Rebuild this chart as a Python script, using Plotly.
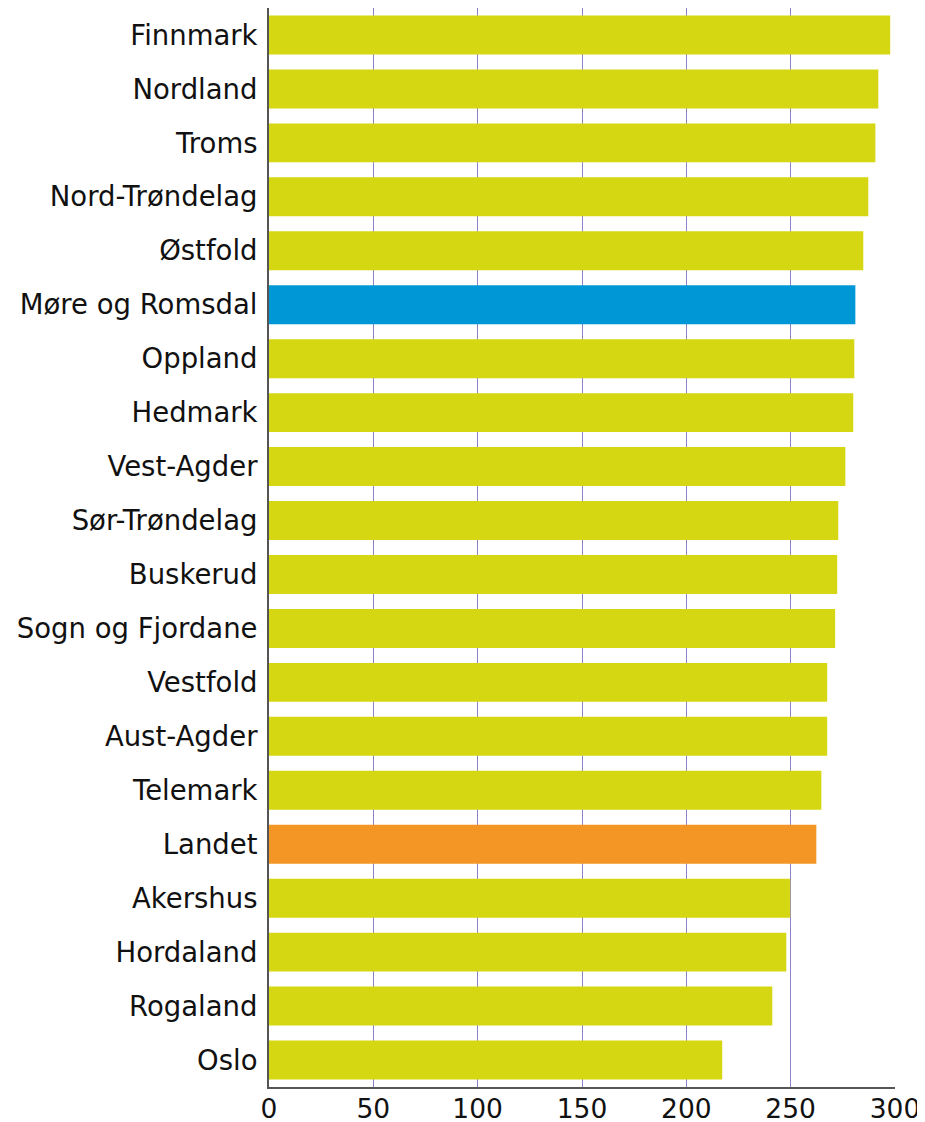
import plotly.graph_objects as go

regions = ["Finnmark", "Nordland", "Troms", "Nord-Trøndelag", "Østfold",
           "Møre og Romsdal", "Oppland", "Hedmark", "Vest-Agder", "Sør-Trøndelag",
           "Buskerud", "Sogn og Fjordane", "Vestfold", "Aust-Agder", "Telemark",
           "Landet", "Akershus", "Hordaland", "Rogaland", "Oslo"]
values = [297.7, 292.0, 290.6, 287.2, 284.8,
          281.0, 280.5, 280.0, 276.2, 272.8,
          272.3, 271.3, 267.5, 267.5, 264.7,
          262.3, 249.8, 247.9, 241.2, 217.2]

GREEN = "#d4d711"
BLUE = "#0097d6"
ORANGE = "#f39626"
highlight = {"Møre og Romsdal": BLUE, "Landet": ORANGE}
colors = [highlight.get(r, GREEN) for r in regions]

x_ticks = [0, 50, 100, 150, 200, 250, 300]

fig = go.Figure(go.Bar(
    x=values, y=regions, orientation="h",
    marker=dict(color=colors, line=dict(width=0)),
))

# the page body adds an 8px offset, so the figure is 8px smaller
fig.update_layout(
    width=917, height=1114,
    margin=dict(l=261, r=30, t=0, b=35, autoexpand=False),
    paper_bgcolor="white", plot_bgcolor="white",
    bargap=0.278,
    showlegend=False,
    font=dict(family="DejaVu Sans", color="#111111"),
)
fig.update_xaxes(
    range=[0, 300], tickvals=x_ticks, ticktext=[str(t) for t in x_ticks],
    showgrid=True, gridcolor="#8e82c6", gridwidth=1.2,
    zeroline=False, showline=True, linecolor="#555555", linewidth=2,
    tickfont=dict(size=26.5), ticks="", ticklabelstandoff=-3, automargin=False,
)
fig.update_yaxes(
    categoryorder="array", categoryarray=regions, autorange="reversed",
    showgrid=False, zeroline=False, showline=True, linecolor="#555555", linewidth=2,
    tickfont=dict(size=27.5), ticks="", ticklabelstandoff=4, automargin=False,
)

fig.write_html("out.html")
